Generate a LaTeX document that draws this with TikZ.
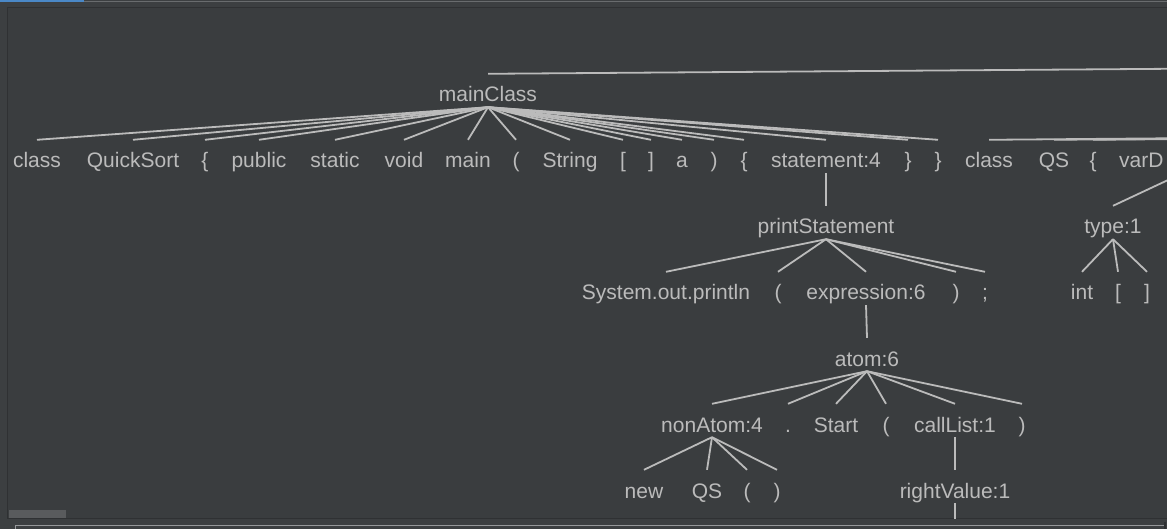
\documentclass[tikz,border=0pt]{standalone}
\usepackage{fontspec}
\setmainfont{Liberation Sans}
\usetikzlibrary{backgrounds}
\pgfdeclarelayer{bglayer}
\pgfdeclarelayer{edgelayer}
\pgfdeclarelayer{nodelayer}
\pgfsetlayers{bglayer,edgelayer,nodelayer,main}
\definecolor{darcula}{HTML}{3C3F41}
\definecolor{panel}{HTML}{3A3D3F}
\definecolor{border}{HTML}{2F3133}
\definecolor{ink}{HTML}{BBBBBB}
\definecolor{tabblue}{HTML}{4A88C7}
\definecolor{tabgray}{HTML}{696C6E}
\definecolor{thumb}{HTML}{595B5D}
\tikzset{font=\fontsize{21}{25}\selectfont}
\tikzstyle{tnode}=[text=ink, anchor=base, inner xsep=0pt, inner ysep=5pt, text height=23pt, text depth=0pt]
\tikzstyle{edge}=[draw=ink, line width=1.8pt]

\begin{document}
\begin{tikzpicture}[x=1pt, y=-1pt]
	\useasboundingbox (0, 0) rectangle (1167, 529);
	\begin{pgfonlayer}{bglayer}
		\fill [darcula] (0, 0) rectangle (1167, 529);
		\fill [panel] (8, 8) rectangle (1167, 518);
		\draw [border, line width=1.2pt] (1167, 7.5) -- (7.5, 7.5) -- (7.5, 518.5) -- (1167, 518.5);
		\fill [tabblue] (0, 0) rectangle (84, 2.5);
		\fill [tabgray] (84, 0.8) rectangle (1167, 2.5);
		\fill [thumb] (9, 510) rectangle (66, 518);
		\draw [tabgray!70!white, line width=1.2pt] (15.5, 540) -- (15.5, 525.5) -- (1164, 525.5);
		\draw [border, line width=1.2pt] (1165, 522) -- (1165, 529);
	\end{pgfonlayer}
	\begin{pgfonlayer}{nodelayer}
		\node [style=tnode] (0) at (488, 102) {mainClass};
		\node [style=tnode] (1) at (37, 168) {class};
		\node [style=tnode] (2) at (133, 168) {QuickSort};
		\node [style=tnode] (3) at (205, 168) {\{};
		\node [style=tnode] (4) at (259, 168) {public};
		\node [style=tnode] (5) at (335, 168) {static};
		\node [style=tnode] (6) at (404, 168) {void};
		\node [style=tnode] (7) at (468, 168) {main};
		\node [style=tnode] (8) at (516, 168) {(};
		\node [style=tnode] (9) at (570, 168) {String};
		\node [style=tnode] (10) at (623, 168) {[};
		\node [style=tnode] (11) at (651, 168) {]};
		\node [style=tnode] (12) at (682, 168) {a};
		\node [style=tnode] (13) at (714, 168) {)};
		\node [style=tnode] (14) at (744, 168) {\{};
		\node [style=tnode] (15) at (826, 168) {statement:4};
		\node [style=tnode] (16) at (908, 168) {\}};
		\node [style=tnode] (17) at (938, 168) {\}};
		\node [style=tnode] (18) at (989, 168) {class};
		\node [style=tnode] (19) at (1054, 168) {QS};
		\node [style=tnode] (20) at (1093, 168) {\{};
		\node [style=tnode, anchor=base west] (21) at (1119, 168) {varD};
		\node [style=tnode] (22) at (826, 234) {printStatement};
		\node [style=tnode] (23) at (666, 300) {System.out.println};
		\node [style=tnode] (24) at (778, 300) {(};
		\node [style=tnode] (25) at (866, 300) {expression:6};
		\node [style=tnode] (26) at (956, 300) {)};
		\node [style=tnode] (27) at (985, 300) {;};
		\node [style=tnode] (28) at (867, 366) {atom:6};
		\node [style=tnode] (29) at (712, 432) {nonAtom:4};
		\node [style=tnode] (30) at (788, 432) {.};
		\node [style=tnode] (31) at (836, 432) {Start};
		\node [style=tnode] (32) at (886, 432) {(};
		\node [style=tnode] (33) at (955, 432) {callList:1};
		\node [style=tnode] (34) at (1022, 432) {)};
		\node [style=tnode] (35) at (644, 498) {new};
		\node [style=tnode] (36) at (707, 498) {QS};
		\node [style=tnode] (37) at (747, 498) {(};
		\node [style=tnode] (38) at (777, 498) {)};
		\node [style=tnode] (39) at (955, 498) {rightValue:1};
		\node [style=tnode] (40) at (1113, 234) {type:1};
		\node [style=tnode] (41) at (1082, 300) {int};
		\node [style=tnode] (42) at (1118, 300) {[};
		\node [style=tnode] (43) at (1147, 300) {]};
		\coordinate (44) at (4950, 41);
		\coordinate (45) at (4900, 107);
		\coordinate (46) at (1183, 173);
		\coordinate (47) at (955, 540);
	\end{pgfonlayer}
	\begin{pgfonlayer}{edgelayer}
		\begin{scope}
			\clip (8, 8) rectangle (1167, 518);
			\draw [style=edge] (0.north) to (44);
			\foreach \n in {1,...,17}
				\draw [style=edge] (0.south) to (\n.north);
			\foreach \n in {18,19,20}
				\draw [style=edge] (\n.north) to (45);
			\draw [style=edge] (40.north) to (46);
			\draw [style=edge] (15.south) to (22.north);
			\foreach \n in {23,...,27}
				\draw [style=edge] (22.south) to (\n.north);
			\draw [style=edge] (25.south) to (28.north);
			\foreach \n in {29,...,34}
				\draw [style=edge] (28.south) to (\n.north);
			\foreach \n in {35,...,38}
				\draw [style=edge] (29.south) to (\n.north);
			\draw [style=edge] (33.south) to (39.north);
			\draw [style=edge] (39.south) to (47);
			\foreach \n in {41,42,43}
				\draw [style=edge] (40.south) to (\n.north);
		\end{scope}
	\end{pgfonlayer}
\end{tikzpicture}
\end{document}
